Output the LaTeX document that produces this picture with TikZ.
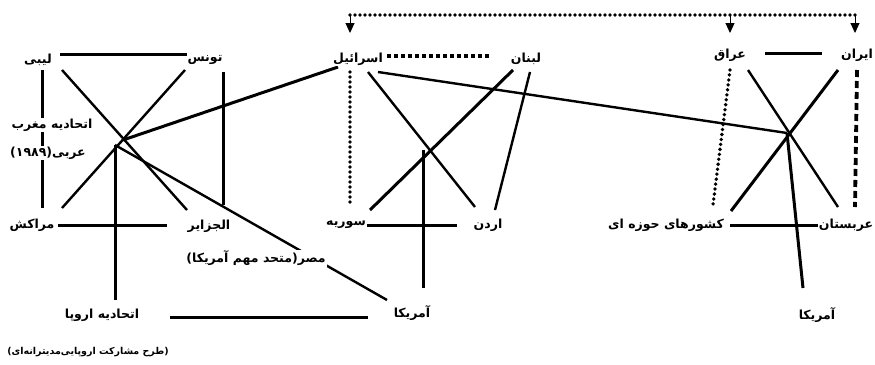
\documentclass[tikz,border=0pt]{standalone}
\usepackage{fontspec}
\TeXXeTstate=1
\newfontfamily\arabicfont[Script=Arabic]{DejaVu Sans}
\usetikzlibrary{arrows.meta}
\newcommand{\fa}[1]{\beginR #1\endR}
\begin{document}
\begin{tikzpicture}[x=1pt,y=-1pt,
  lbl/.style={font=\arabicfont\bfseries\fontsize{12.5}{14}\selectfont, inner sep=1pt, fill=white},
  lblsm/.style={lbl, font=\arabicfont\bfseries\fontsize{9.5}{11}\selectfont},
  ln/.style={line width=3pt},
  thin/.style={line width=2.4pt},
  rdots/.style={line width=3.8pt, dash pattern=on 0pt off 5pt, line cap=round},
  sqdash/.style={line width=3.6pt, dash pattern=on 4pt off 3pt},
  bigdash/.style={line width=3.8pt, dash pattern=on 7pt off 4pt},
  arr/.style={line width=1pt, -{Triangle[width=9pt,length=10pt]}}]
\useasboundingbox[fill=white] (0,0) rectangle (875,364);

% ---------- coordinates: left group ----------
\coordinate (cL) at (115,145);
\coordinate (cLa) at (123,140);
\coordinate (lyb) at (42,70);   \coordinate (lyb2) at (42,208);
\coordinate (tun) at (223,72);  \coordinate (tun2) at (223,205);
\coordinate (lybX) at (62,70);  \coordinate (algX) at (187,210);
\coordinate (tunX) at (185,70); \coordinate (morX) at (62,208);
\coordinate (lt1) at (60,54);   \coordinate (lt2) at (187,54);
\coordinate (ma1) at (58,225);  \coordinate (ma2) at (167,225);
\coordinate (euv) at (115,300);
\coordinate (eu1) at (170,317); \coordinate (eu2) at (368,317);
\coordinate (amM) at (387,300);
\coordinate (isrL) at (338,67);

% ---------- coordinates: middle group ----------
\coordinate (cM) at (423,150);
\coordinate (isrV1) at (350,72); \coordinate (isrV2) at (350,205);
\coordinate (il1) at (387,56);   \coordinate (il2) at (490,56);
\coordinate (isrX) at (368,72);  \coordinate (jorX) at (475,207);
\coordinate (lebX) at (513,70);  \coordinate (syrX) at (370,210);
\coordinate (lebY) at (530,72);  \coordinate (jorY) at (495,210);
\coordinate (sj1) at (367,225);  \coordinate (sj2) at (457,225);
\coordinate (amMv) at (423,288);
\coordinate (isrR) at (378,72);

% ---------- coordinates: right group ----------
\coordinate (cR) at (787,133);
\coordinate (ii1) at (765,53);   \coordinate (ii2) at (822,53);
\coordinate (irqV1) at (730,70); \coordinate (irqV2) at (713,205);
\coordinate (irnV1) at (857,70); \coordinate (irnV2) at (855,207);
\coordinate (irqX) at (748,70);  \coordinate (sauX) at (838,207);
\coordinate (irnX) at (838,70);  \coordinate (regX) at (731,211);
\coordinate (amRv) at (803,288);
\coordinate (rs1) at (730,225);  \coordinate (rs2) at (822,225);

% ---------- top arrow ----------
\coordinate (t1) at (350,15); \coordinate (t2) at (730,15); \coordinate (t3) at (855,15);
\coordinate (a1) at (350,33); \coordinate (a2) at (730,33); \coordinate (a3) at (855,33);

% ---------- lines ----------
\draw[ln] (lt1) -- (lt2);
\draw[ln] (lyb) -- (lyb2);
\draw[ln] (tun) -- (tun2);
\draw[thin] (lybX) -- (algX);
\draw[thin] (tunX) -- (morX);
\draw[ln] (ma1) -- (ma2);
\draw[ln] (cL) -- (euv);
\draw[thin] (cL) -- (amM);
\draw[ln] (cLa) -- (isrL);
\draw[ln] (eu1) -- (eu2);

\draw[rdots] (isrV1) -- (isrV2);
\draw[sqdash] (il1) -- (il2);
\draw[thin] (isrX) -- (jorX);
\draw[ln] (lebX) -- (syrX);
\draw[thin] (lebY) -- (jorY);
\draw[ln] (sj1) -- (sj2);
\draw[ln] (cM) -- (amMv);
\draw[thin] (isrR) -- (cR);

\draw[ln] (ii1) -- (ii2);
\draw[rdots] (irqV1) -- (irqV2);
\draw[bigdash] (irnV1) -- (irnV2);
\draw[thin] (irqX) -- (sauX);
\draw[ln] (irnX) -- (regX);
\draw[ln] (cR) -- (amRv);
\draw[ln] (rs1) -- (rs2);

\draw[rdots] (t1) -- (t3);
\draw[arr] (t1) -- (a1);
\draw[arr] (t2) -- (a2);
\draw[arr] (t3) -- (a3);

% ---------- labels ----------
\node[lbl] (libya) at (38,60) {\fa{لیبی}};
\node[lbl] (tunis) at (205,60) {\fa{تونس}};
\node[lbl] (maghreb1) at (52,125) {\fa{اتحادیه مغرب}};
\node[lbl] (maghreb2) at (48,153) {\fa{عربی(۱۹۸۹)}};
\node[lbl] (morocco) at (32,225) {\fa{مراکش}};
\node[lbl] (algeria) at (209,226) {\fa{الجزایر}};
\node[lbl] (egypt) at (256,258) {\fa{مصر(متحد مهم آمریکا)}};
\node[lbl] (eu) at (102,315) {\fa{اتحادیه اروپا}};
\node[lblsm] (eumed) at (88,352) {\fa{(طرح مشارکت اروپایی‌مدیترانه‌ای)}};

\node[lbl] (israel) at (358,59) {\fa{اسرائیل}};
\node[lbl] (lebanon) at (526,59) {\fa{لبنان}};
\node[lbl] (syria) at (346,225) {\fa{سوریه}};
\node[lbl] (jordan) at (488,225) {\fa{اردن}};
\node[lbl] (usaM) at (412,313) {\fa{آمریکا}};

\node[lbl] (iraq) at (730,55) {\fa{عراق}};
\node[lbl] (iran) at (857,55) {\fa{ایران}};
\node[lbl] (region) at (666,225) {\fa{کشورهای حوزه ای}};
\node[lbl] (saudi) at (846,225) {\fa{عربستان}};
\node[lbl] (usaR) at (817,315) {\fa{آمریکا}};
\end{tikzpicture}
\end{document}
